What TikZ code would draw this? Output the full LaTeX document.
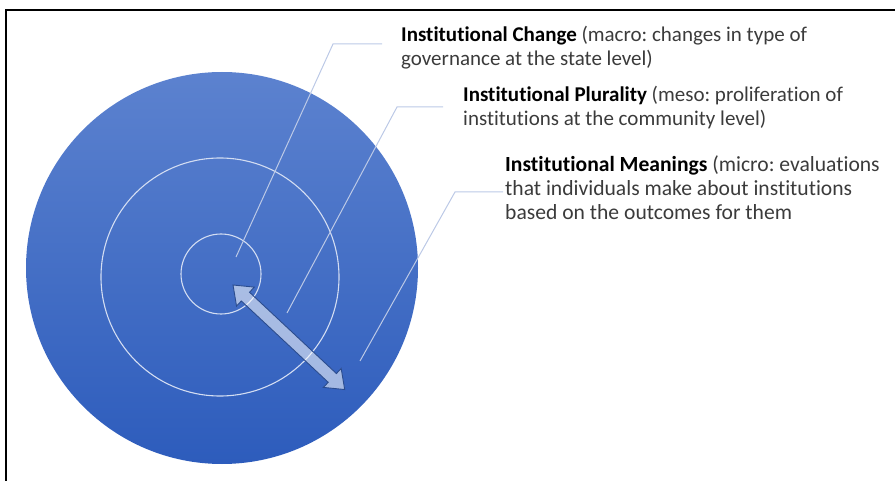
\documentclass[tikz,border=0pt]{standalone}
\usepackage{fontspec}
\setmainfont{Carlito}[Ligatures=NoCommon]
\frenchspacing
\definecolor{ctop}{HTML}{5C82CF}
\definecolor{cbot}{HTML}{2D5CBC}
\definecolor{ring}{HTML}{D3DDF2}
\definecolor{lead}{HTML}{BCC9E6}
\definecolor{arr}{HTML}{2B4C8E}
\definecolor{txt}{HTML}{3B3B3B}
\usetikzlibrary{calc}

\tikzset{
  label text/.style={anchor=north west,inner sep=0pt,align=left,text=txt,
    font=\fontsize{21}{24}\selectfont},
  leader/.style={lead,line width=1pt},
  ring line/.style={ring,line width=1.1pt}
}

\begin{document}
\begin{tikzpicture}[x=1pt,y=-1pt]

			\useasboundingbox (0,0) rectangle (895,481);

			% Frame
			\draw[line width=2pt] (6,481) -- (6,10) -- (895,10);

			% Outer circle
			\shade[top color=ctop,bottom color=cbot] (222,268) circle (196);

			% Middle and inner circles
			\draw[ring line] (220,277) circle (119);
			\draw[ring line] (221,274) circle (40);

			% Double arrow
			\begin{scope}[shift={(233,285)},rotate=-43.1]
				\draw[arr,line width=0.9pt,fill=white,fill opacity=0.55]
					(0,0) -- (17,13) -- (17,6) -- (136,6) -- (136,13) -- (153,0)
					-- (136,-13) -- (136,-6) -- (17,-6) -- (17,-13) -- cycle;
			\end{scope}

			% Labels
			\node[label text] (change) at (401,26)
				{\textbf{\color{black}Institutional Change} (macro: changes in type of\\governance at the state level)};
			\node[label text] (plurality) at (463,86)
				{\textbf{\color{black}Institutional Plurality} (meso: proliferation of\\institutions at the community level)};
			\node[label text,font=\fontsize{21.6}{24}\selectfont] (meanings) at (505,156)
				{\textbf{\color{black}Institutional Meanings} (micro: evaluations\\that individuals make about institutions\\based on the outcomes for them};

			% Leader points
			\coordinate (change-in) at (236,257);
			\coordinate (change-knee) at (333,44);
			\coordinate (change-out) at (382,44);
			\coordinate (plurality-in) at (287,313);
			\coordinate (plurality-knee) at (397,107);
			\coordinate (plurality-out) at (443,107);
			\coordinate (meanings-in) at (360,361);
			\coordinate (meanings-knee) at (455,192);
			\coordinate (meanings-out) at (503,192);

			% Leader lines
			\draw[leader] (change-in) -- (change-knee) -- (change-out);
			\draw[leader] (plurality-in) -- (plurality-knee) -- (plurality-out);
			\draw[leader] (meanings-in) -- (meanings-knee) -- (meanings-out);

		\end{tikzpicture}
\end{document}
